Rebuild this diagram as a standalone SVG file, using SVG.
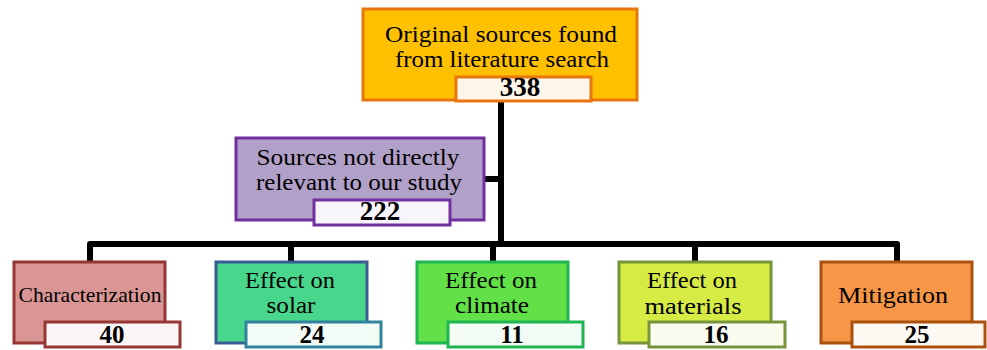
<svg xmlns="http://www.w3.org/2000/svg" width="987" height="350" viewBox="0 0 987 350">
<style>
text{font-family:'Liberation Serif','Times New Roman',Times,serif;text-anchor:middle;fill:#000}
.lbl{font-size:23px}
.num{font-size:27px;font-weight:bold}
.nums{font-size:25px;font-weight:bold}
.box{stroke-width:3}
.nb{stroke-width:3}
.conn{stroke:#000;stroke-width:6;fill:none;stroke-linejoin:round}
</style>
<rect width="987" height="350" fill="#fff"/>
<g id="connectors">
<path class="conn" d="M501 100 V244"/>
<path class="conn" d="M484 179 H501"/>
<path class="conn" d="M90 261 V244 H897 V261"/>
<path class="conn" d="M291 244 V261 M493 244 V261 M695 244 V261"/>
</g>
<g id="top">
<rect class="box" x="363" y="9" width="274" height="91" fill="#FFC000" stroke="#E8760F"/>
<text class="lbl" x="501" y="42" textLength="232" lengthAdjust="spacingAndGlyphs">Original sources found</text>
<text class="lbl" x="502" y="67" textLength="214" lengthAdjust="spacingAndGlyphs">from literature search</text>
<rect class="nb" x="456" y="77" width="135" height="24" fill="#FDF6E8" stroke="#E8760F"/>
<text class="num" x="520" y="96">338</text>
</g>
<g id="notrelevant">
<rect class="box" x="236" y="138" width="248" height="82" fill="#B1A0C7" stroke="#7030A0"/>
<text class="lbl" x="358" y="165" textLength="203" lengthAdjust="spacingAndGlyphs">Sources not directly</text>
<text class="lbl" x="359" y="190" textLength="206" lengthAdjust="spacingAndGlyphs">relevant to our study</text>
<rect class="nb" x="314" y="200" width="136" height="25" fill="#F7F4FA" stroke="#7030A0"/>
<text class="num" x="380" y="220">222</text>
</g>
<g id="characterization">
<rect class="box" x="14" y="262" width="151" height="81" fill="#D99694" stroke="#953735"/>
<text x="90" y="302" style="font-size:21px" textLength="143" lengthAdjust="spacingAndGlyphs">Characterization</text>
<rect class="nb" x="45" y="322" width="135" height="25" fill="#FCF5F5" stroke="#953735"/>
<text class="nums" x="112" y="343">40</text>
</g>
<g id="solar">
<rect class="box" x="216" y="262" width="151" height="81" fill="#48D68D" stroke="#3A5A94"/>
<text class="lbl" x="290" y="288" textLength="90" lengthAdjust="spacingAndGlyphs">Effect on</text>
<text class="lbl" x="291" y="313" textLength="49" lengthAdjust="spacingAndGlyphs">solar</text>
<rect class="nb" x="246" y="322" width="135" height="25" fill="#F3FBF7" stroke="#31849B"/>
<text class="nums" x="312" y="343">24</text>
</g>
<g id="climate">
<rect class="box" x="417" y="262" width="151" height="81" fill="#62E047" stroke="#1FB552"/>
<text class="lbl" x="491" y="288" textLength="92" lengthAdjust="spacingAndGlyphs">Effect on</text>
<text class="lbl" x="492" y="313" textLength="74" lengthAdjust="spacingAndGlyphs">climate</text>
<rect class="nb" x="448" y="322" width="135" height="25" fill="#F3FBF5" stroke="#1FB552"/>
<text class="nums" x="512" y="343">11</text>
</g>
<g id="materials">
<rect class="box" x="619" y="262" width="152" height="81" fill="#D6EC45" stroke="#77933C"/>
<text class="lbl" x="692" y="288" textLength="90" lengthAdjust="spacingAndGlyphs">Effect on</text>
<text class="lbl" x="693" y="314" textLength="97" lengthAdjust="spacingAndGlyphs">materials</text>
<rect class="nb" x="649" y="322" width="136" height="25" fill="#FAFCF0" stroke="#77933C"/>
<text class="nums" x="716" y="343">16</text>
</g>
<g id="mitigation">
<rect class="box" x="821" y="262" width="151" height="81" fill="#F79646" stroke="#A9520F"/>
<text class="lbl" x="893" y="303" textLength="110" lengthAdjust="spacingAndGlyphs">Mitigation</text>
<rect class="nb" x="852" y="322" width="133" height="25" fill="#FEF8F3" stroke="#A9520F"/>
<text class="nums" x="917" y="343">25</text>
</g>
</svg>
